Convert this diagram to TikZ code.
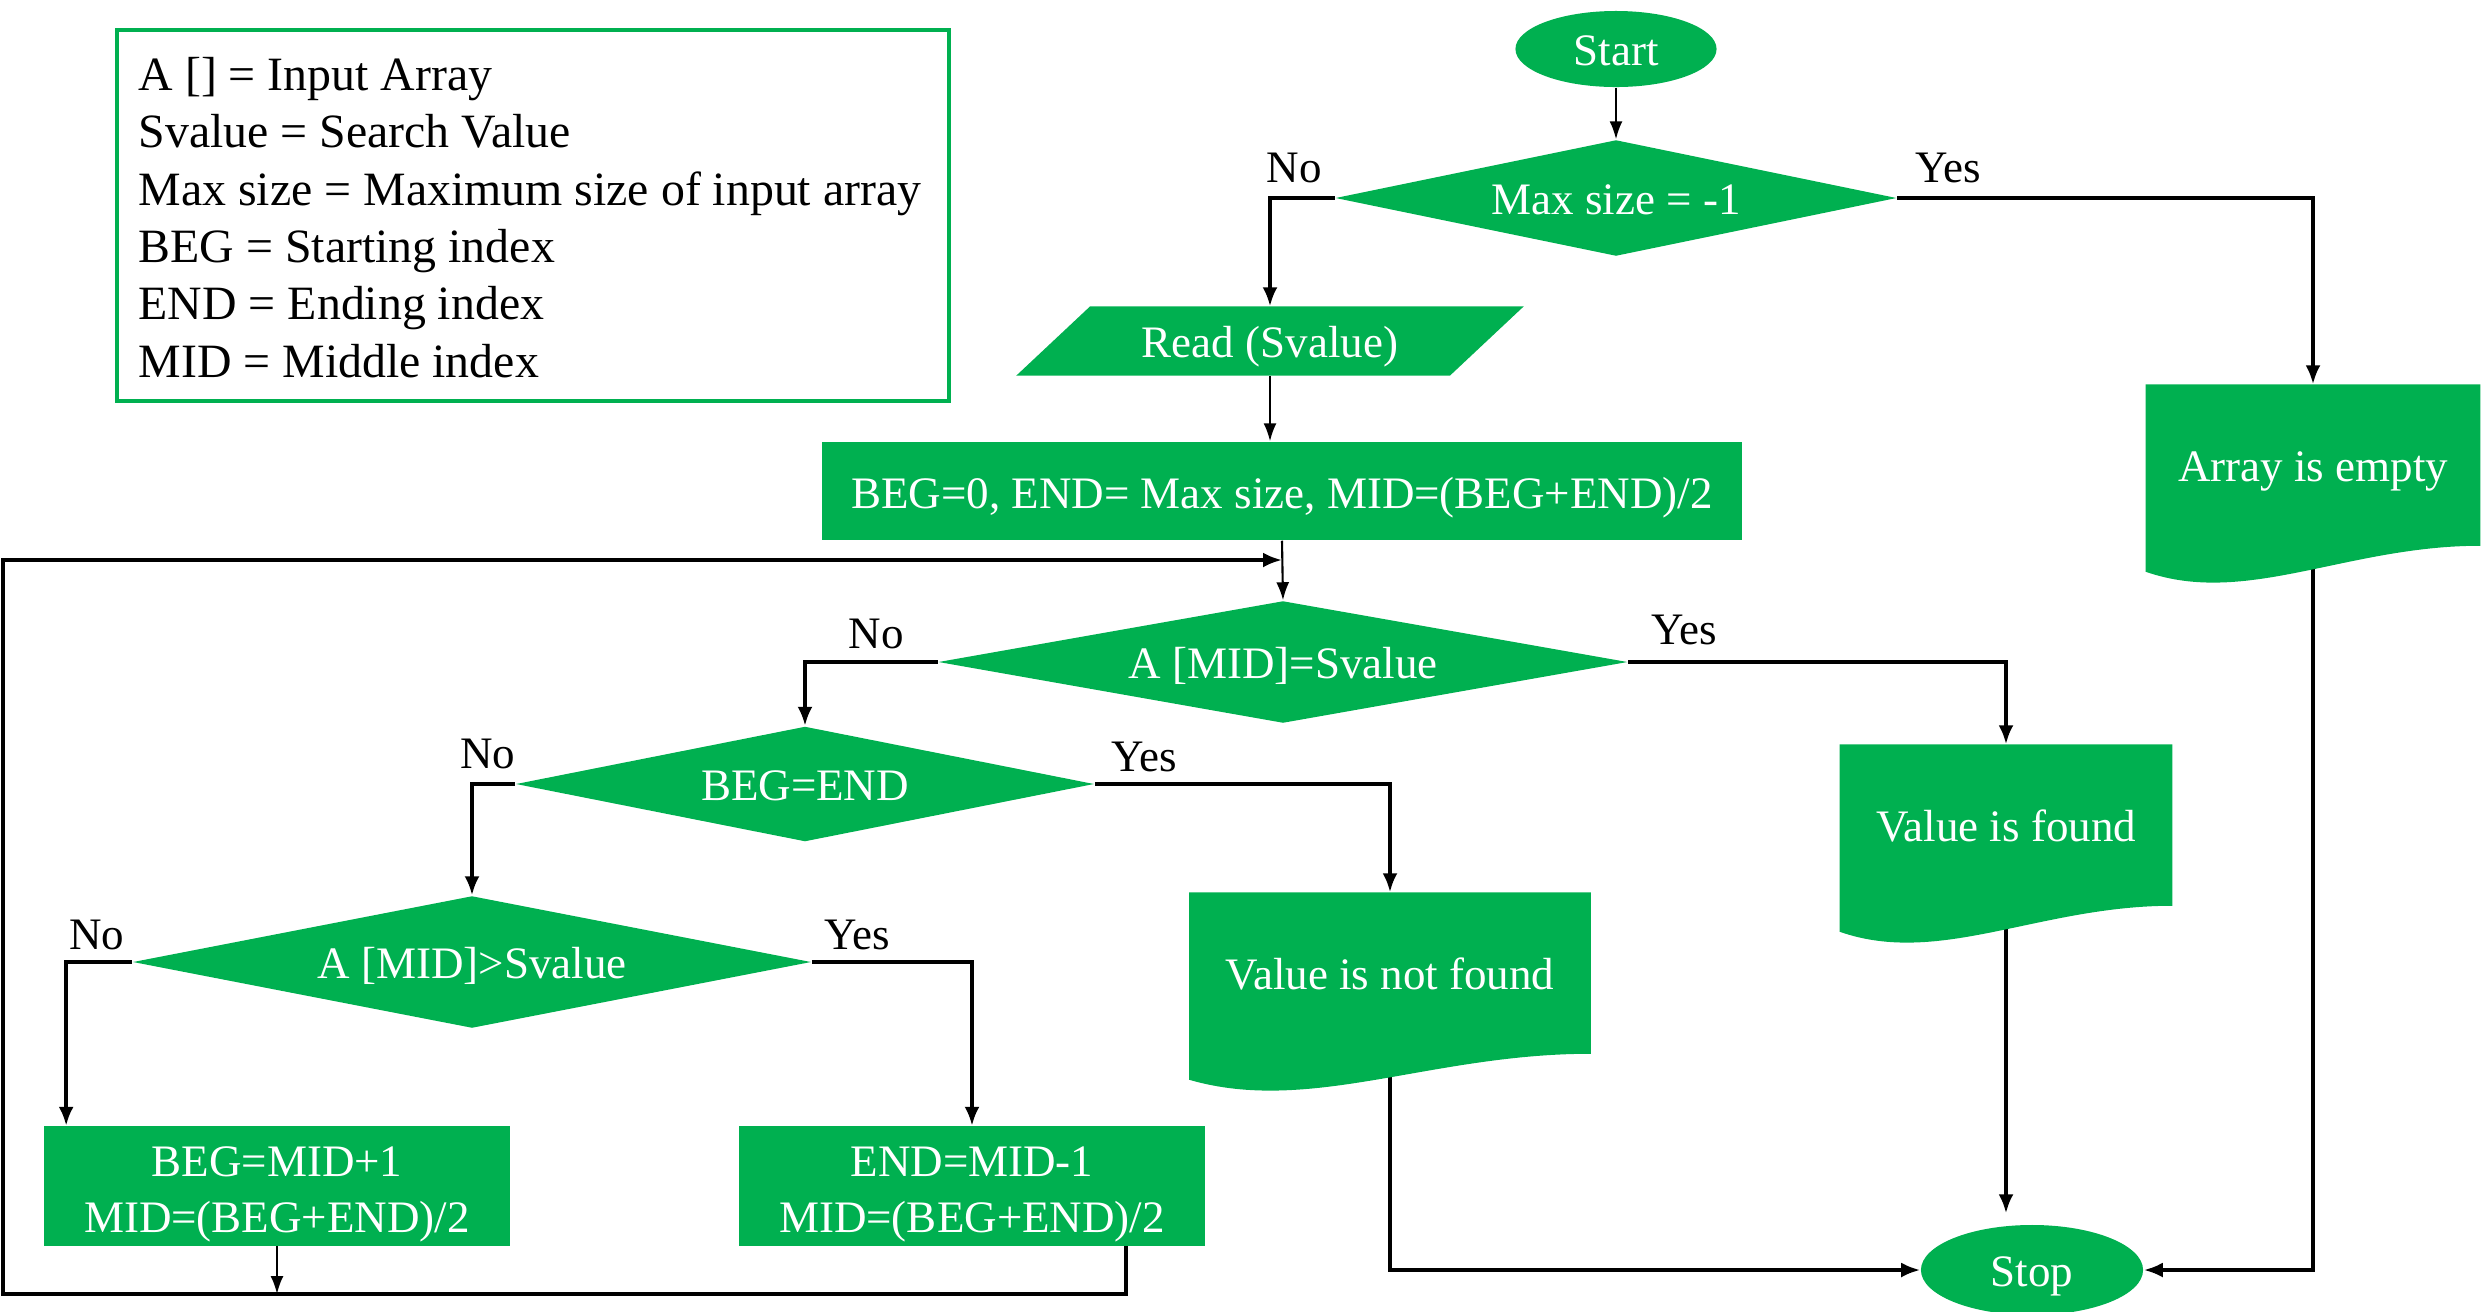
\documentclass[tikz,border=0pt]{standalone}
\usepackage{fontspec}
\setmainfont{Liberation Serif}
\usetikzlibrary{shapes.geometric,arrows.meta,calc}
\definecolor{gr}{RGB}{0,176,80}
\pgfdeclarelayer{edges}
\pgfdeclarelayer{shapes}
\pgfsetlayers{edges,shapes,main}
\tikzset{
  base/.style={font=\fontsize{12.8}{15.9}\selectfont, text=white, inner sep=0pt},
  one/.style={text height=0.95em, text depth=0pt},
  term/.style={base, one, ellipse, fill=gr},
  dec/.style={base, one, diamond, fill=gr},
  proc/.style={base, rectangle, fill=gr, align=center},
  txt/.style={base, align=center},
  docbox/.style={base, one, rectangle, align=center},
  iobox/.style={base, one, rectangle},
  lbl/.style={font=\fontsize{12.8}{15.9}\selectfont, inner sep=0pt},
  tarrow/.style={line width=0.6pt, -{Latex[length=1.8mm,width=1.3mm]}},
  karrow/.style={line width=1pt, -{Latex[length=1.9mm,width=1.5mm]}},
}
\newcommand\mydocfill[1]{\fill[gr] (#1.north west) -- (#1.north east) -- (#1.south east)
  .. controls ($(#1.south east)!0.4!(#1.south west)$) and ($(#1.south east)!0.7!(#1.south west)+(0,61)$)
  .. ($(#1.south west)+(0,26)$) -- cycle;}
\begin{document}
\begin{tikzpicture}[x=0.01cm,y=-0.01cm]
\useasboundingbox (0,0) rectangle (2484,1311);

% legend
\node[draw=gr, line width=1.2pt, minimum width=8.32cm, minimum height=3.71cm, inner sep=0pt] (legend) at (533,215.5) {};
\node[anchor=west, align=left, font=\fontsize{13.6}{16.3}\selectfont, inner sep=0pt] (legtext) at (138,217.5)
 {A [] = Input Array\\ Svalue = Search Value\\ Max size = Maximum size of input array\\ BEG = Starting index\\ END = Ending index\\ MID = Middle index};

% nodes
\node[term, minimum width=2.01cm, minimum height=0.76cm] (start) at (1616,49) {Start};
\node[dec, aspect=4.84, minimum width=5.61cm, minimum height=1.16cm] (maxd) at (1616,198) {Max size = -1};
\node[iobox, minimum width=4.32cm, minimum height=0.68cm] (read) at (1270,341) {Read (Svalue)};
\node[proc, text height=1.0em, text depth=0pt, minimum width=9.20cm, minimum height=0.98cm] (init) at (1282,491) {BEG=0, END= Max size, MID=(BEG+END)/2};
\node[dec, aspect=5.65, minimum width=6.89cm, minimum height=1.22cm] (d2) at (1283,662) {A [MID]=Svalue};
\node[dec, aspect=5.03, minimum width=5.78cm, minimum height=1.15cm] (d3) at (805,784) {BEG=END};
\node[dec, aspect=5.14, minimum width=6.78cm, minimum height=1.32cm] (d4) at (472,962) {A [MID]>Svalue};
\node[proc, minimum width=4.66cm, minimum height=1.19cm] (b1) at (277,1186) {};
\node[txt] (b1t) at ($(b1.center)+(0,8)$) {BEG=MID+1\\MID=(BEG+END)/2};
\node[proc, minimum width=4.66cm, minimum height=1.19cm] (b2) at (972,1186) {};
\node[txt] (b2t) at ($(b2.center)+(0,8)$) {END=MID-1\\MID=(BEG+END)/2};
\node[docbox, minimum width=4.00cm, minimum height=1.60cm] (notfound) at (1390,973) {Value is not found};
\node[docbox, minimum width=3.31cm, minimum height=1.60cm] (found) at (2006,825) {Value is found};
\node[docbox, minimum width=3.33cm, minimum height=1.60cm] (empty) at (2313,465) {Array is empty};
\node[term, minimum width=2.22cm, minimum height=0.90cm] (stop) at (2032,1270) {Stop};

% labels
\node[lbl] (l1) at (1294,168) {No};
\node[lbl] (l2) at (1948,168) {Yes};
\node[lbl] (l3) at (876,634) {No};
\node[lbl] (l4) at (1684,630) {Yes};
\node[lbl] (l5) at (488,754) {No};
\node[lbl] (l6) at (1144,757) {Yes};
\node[lbl] (l7) at (97,935) {No};
\node[lbl] (l8) at (857,935) {Yes};

% helper coordinates
\coordinate (b1in) at ($(b1.north west)+(23,0)$);
\coordinate (loopR) at ($(b2.south east)+(-80,0)$);
\coordinate (loopBL) at (3,1294);
\coordinate (loopTL) at (3,560);
\coordinate (loopEnd) at (init.south |- loopTL);

\begin{pgfonlayer}{shapes}
  \mydocfill{notfound}
  \mydocfill{found}
  \mydocfill{empty}
  \fill[gr] ($(read.north west)+(37,0)$) -- ($(read.north east)+(37,0)$) -- ($(read.south east)+(-37,0)$) -- ($(read.south west)+(-37,0)$) -- cycle;
\end{pgfonlayer}

\begin{pgfonlayer}{edges}
  \draw[tarrow] (start.south) -- (maxd.north);
  \draw[karrow] (maxd.west) -| (read.north);
  \draw[karrow] (maxd.east) -| (empty.north);
  \draw[tarrow] (read.south) -- (read.south |- init.north);
  \draw[tarrow] (init.south) -- (d2.north);
  \draw[karrow] (d2.west) -| (d3.north);
  \draw[karrow] (d2.east) -| (found.north);
  \draw[karrow] (d3.west) -| (d4.north);
  \draw[karrow] (d3.east) -| (notfound.north);
  \draw[karrow] (d4.west) -| (b1in);
  \draw[karrow] (d4.east) -| (b2.north);
  \draw[tarrow] (b1.south) -- (b1.south |- loopBL);
  \draw[karrow] (loopR) |- (loopBL) -- (loopTL) -- (loopEnd);
  \draw[karrow] (notfound.south) |- (stop.west);
  \draw[karrow] (empty.south) |- (stop.east);
  \draw[karrow] (found.south) -- ($(found.south |- stop.north)+(0,-11)$);
\end{pgfonlayer}
\end{tikzpicture}
\end{document}
